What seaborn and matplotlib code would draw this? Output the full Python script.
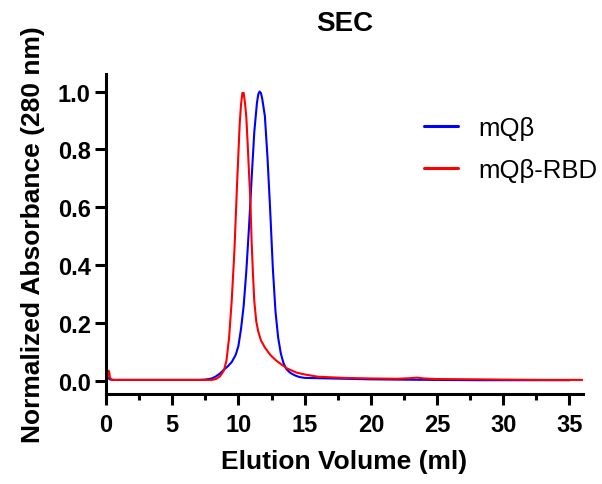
import numpy as np
import pandas as pd
import matplotlib
matplotlib.use("Agg")
import matplotlib.pyplot as plt
import seaborn as sns
from matplotlib.ticker import MultipleLocator

# ---- data ----
mqb_x = [0, 0.1, 0.2, 0.3, 0.5, 1, 2, 3, 4, 5, 6, 7, 7.5, 8.0, 8.3, 8.6, 8.9, 9.2,
         9.5, 9.8, 10.0, 10.2, 10.4, 10.6, 10.8, 11.0, 11.2, 11.4, 11.5, 11.6, 11.7,
         11.8, 12.0, 12.2, 12.4, 12.6, 12.8, 13.0, 13.2, 13.4, 13.6, 13.8, 14.0, 14.3,
         14.6, 15, 16, 17, 18, 20, 22, 25, 28, 30, 32, 35]
mqb_y = [0.003, 0.006, 0.010, 0.005, 0.003, 0.003, 0.003, 0.003, 0.003, 0.003, 0.003,
         0.003, 0.004, 0.008, 0.015, 0.025, 0.038, 0.050, 0.065, 0.090, 0.120, 0.180,
         0.260, 0.380, 0.530, 0.700, 0.860, 0.960, 0.990, 1.000, 0.995, 0.975, 0.915,
         0.770, 0.590, 0.390, 0.240, 0.150, 0.095, 0.062, 0.042, 0.032, 0.025, 0.018,
         0.013, 0.010, 0.009, 0.008, 0.007, 0.005, 0.004, 0.003, 0.002, 0.002, 0.002,
         0.002]

rbd_x = [0, 0.1, 0.15, 0.2, 0.25, 0.3, 0.4, 0.6, 1, 2, 3, 4, 5, 6, 7, 8.0, 8.3, 8.6,
         8.9, 9.1, 9.3, 9.5, 9.7, 9.9, 10.1, 10.2, 10.3, 10.4, 10.5, 10.6, 10.7, 10.8,
         10.9, 11.0, 11.1, 11.2, 11.35, 11.5, 11.7, 12.0, 12.4, 12.8, 13.2, 13.7, 14.4,
         15, 16, 17, 18, 20, 22, 23, 23.5, 24, 25, 28, 30, 33, 36]
rbd_y = [0.003, 0.008, 0.025, 0.035, 0.030, 0.012, 0.004, 0.003, 0.003, 0.003, 0.003,
         0.003, 0.003, 0.003, 0.003, 0.003, 0.006, 0.015, 0.035, 0.070, 0.150, 0.280,
         0.450, 0.680, 0.890, 0.955, 0.995, 0.995, 0.960, 0.910, 0.820, 0.720, 0.630,
         0.480, 0.370, 0.275, 0.205, 0.170, 0.140, 0.115, 0.090, 0.072, 0.058, 0.042,
         0.028, 0.022, 0.014, 0.012, 0.010, 0.008, 0.007, 0.009, 0.011, 0.008, 0.006,
         0.005, 0.004, 0.003, 0.003]

series_names = ["mQβ", "mQβ-RBD"]
x_ticks = [0, 5, 10, 15, 20, 25, 30, 35]
y_ticks = [0.0, 0.2, 0.4, 0.6, 0.8, 1.0]

df = pd.concat([
    pd.DataFrame({"x": mqb_x, "y": mqb_y, "sample": series_names[0]}),
    pd.DataFrame({"x": rbd_x, "y": rbd_y, "sample": series_names[1]}),
], ignore_index=True)

sns.set_style("ticks")
plt.rcParams["font.family"] = ["Liberation Sans", "DejaVu Sans"]
plt.rcParams["text.color"] = "black"
plt.rcParams["axes.labelcolor"] = "black"
plt.rcParams["xtick.color"] = "black"
plt.rcParams["ytick.color"] = "black"

fig = plt.figure(figsize=(6.02, 4.85), dpi=100)
ax = fig.add_axes([0.176, 0.186, 0.792, 0.659])

sns.lineplot(data=df, x="x", y="y", hue="sample", palette=["#0000FF", "#FF0000"],
             estimator=None, sort=False, linewidth=1.5, ax=ax)

ax.set_xlim(0, 36)
ax.set_ylim(-0.045, 1.06)
ax.set_xticks(x_ticks)
ax.set_yticks(y_ticks)
ax.set_yticklabels([f"{v:.1f}" for v in y_ticks])
ax.xaxis.set_minor_locator(MultipleLocator(2.5))

for side in ["top", "right"]:
    ax.spines[side].set_visible(False)
for side in ["left", "bottom"]:
    ax.spines[side].set_linewidth(2.2)
    ax.spines[side].set_color("black")

ax.tick_params(axis="both", which="major", direction="out", length=8, width=2.2,
               labelsize=17, colors="black")
ax.tick_params(axis="x", which="major", pad=6)
ax.tick_params(axis="y", which="major", pad=3)
ax.tick_params(axis="x", which="minor", direction="out", length=4.5, width=2.2,
               colors="black")
for lab in ax.get_xticklabels() + ax.get_yticklabels():
    lab.set_fontweight("bold")

ax.set_xlabel("Elution Volume (ml)", fontsize=19, fontweight="bold", labelpad=9)
ax.set_ylabel("Normalized Absorbance (280 nm)", fontsize=19, fontweight="bold",
              labelpad=9)
ax.set_title("SEC", fontsize=20, fontweight="bold", pad=32)

leg = ax.legend(loc="center left", bbox_to_anchor=(0.667, 0.766), frameon=False,
                fontsize=18.5, handlelength=1.32, handletextpad=0.78,
                labelspacing=0.72, borderpad=0, borderaxespad=0, title=None)
for line in leg.get_lines():
    line.set_linewidth(2.2)

fig.savefig("out.png", dpi=100)
